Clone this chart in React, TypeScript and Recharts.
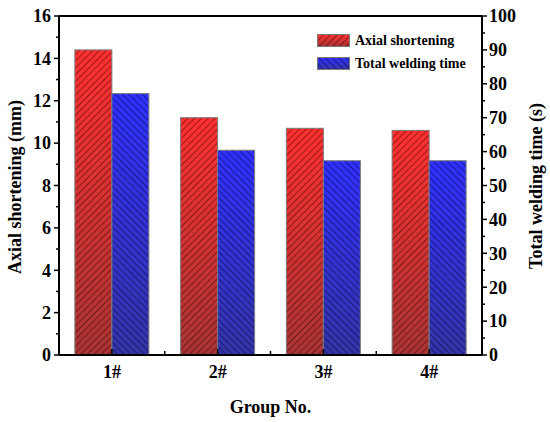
import { BarChart, Bar, XAxis, YAxis, Legend, ReferenceLine } from "recharts";

const categories = ["1#", "2#", "3#", "4#"];
const axialShortening = [14.4, 11.2, 10.7, 10.6];
const weldingTime = [77.1, 60.4, 57.3, 57.3];
const leftTicks = [0, 1, 2, 3, 4, 5, 6, 7, 8, 9, 10, 11, 12, 13, 14, 15, 16];
const rightTicks = [0, 5, 10, 15, 20, 25, 30, 35, 40, 45, 50, 55, 60, 65, 70, 75, 80, 85, 90, 95, 100];

const data = categories.map((name, i) => ({
  name,
  axial: axialShortening[i],
  time: weldingTime[i],
}));

const FONT = "'Liberation Serif', 'Times New Roman', serif";
const PLOT_LEFT = 59;
const PLOT_RIGHT = 482;
const BAND = (PLOT_RIGHT - PLOT_LEFT) / categories.length;

const LeftTick = (props: any) => {
  const { x, y, payload } = props;
  const major = payload.value % 2 === 0;
  return (
    <g>
      <line x1={x} x2={x - (major ? 5 : 3)} y1={y} y2={y} stroke="#000" strokeWidth={1.5} />
      {major && (
        <text x={x - 8} y={y} dy="0.35em" textAnchor="end" fontFamily={FONT} fontWeight="bold" fontSize={18} fill="#000">
          {payload.value}
        </text>
      )}
    </g>
  );
};

const RightTick = (props: any) => {
  const { x, y, payload } = props;
  const major = payload.value % 10 === 0;
  return (
    <g>
      <line x1={x} x2={x + (major ? 5 : 3)} y1={y} y2={y} stroke="#000" strokeWidth={1.5} />
      {major && (
        <text x={x + 7} y={y} dy="0.35em" textAnchor="start" fontFamily={FONT} fontWeight="bold" fontSize={18} fill="#000">
          {payload.value}
        </text>
      )}
    </g>
  );
};

const BottomTick = (props: any) => {
  const { x, y, payload, index } = props;
  return (
    <g>
      <line x1={x} x2={x} y1={y} y2={y - 6} stroke="#000" strokeWidth={1.5} />
      {index < categories.length - 1 && (
        <line x1={x + BAND / 2} x2={x + BAND / 2} y1={y} y2={y - 4} stroke="#000" strokeWidth={1.5} />
      )}
      <text x={x} y={y + 17} dy="0.35em" textAnchor="middle" fontFamily={FONT} fontWeight="bold" fontSize={18} fill="#000">
        {payload.value}
      </text>
    </g>
  );
};

const makeShape = (grad: string, hatch: string) => (props: any) => {
  const { x, y, width, height } = props;
  if (!height || height <= 0) return <g />;
  return (
    <g>
      <rect x={x} y={y} width={width} height={height} fill={`url(#${grad})`} />
      <rect x={x} y={y} width={width} height={height} fill={`url(#${hatch})`} />
      <rect x={x} y={y} width={width} height={height} fill="none" stroke="#7a7a7a" strokeWidth={1} />
    </g>
  );
};

const Defs = ({ prefix }: { prefix: string }) => (
  <defs>
    <linearGradient id={`${prefix}redGrad`} x1="0" y1="0" x2="0" y2="1">
      <stop offset="0%" stopColor="#ff3030" />
      <stop offset="100%" stopColor="#a83434" />
    </linearGradient>
    <linearGradient id={`${prefix}blueGrad`} x1="0" y1="0" x2="0" y2="1">
      <stop offset="0%" stopColor="#3030ff" />
      <stop offset="100%" stopColor="#3434a6" />
    </linearGradient>
    <pattern id={`${prefix}redHatch`} patternUnits="userSpaceOnUse" width={4.8} height={4.8} patternTransform="rotate(45)">
      <line x1={0.5} y1={0} x2={0.5} y2={4.8} stroke="#300000" strokeOpacity={0.6} strokeWidth={0.8} />
    </pattern>
    <pattern id={`${prefix}blueHatch`} patternUnits="userSpaceOnUse" width={4.8} height={4.8} patternTransform="rotate(-45)">
      <line x1={0.5} y1={0} x2={0.5} y2={4.8} stroke="#000030" strokeOpacity={0.6} strokeWidth={0.8} />
    </pattern>
  </defs>
);

const LegendContent = () => {
  const rows = [
    { label: "Axial shortening", grad: "lgredGrad", hatch: "lgredHatch" },
    { label: "Total welding time", grad: "lgblueGrad", hatch: "lgblueHatch" },
  ];
  return (
    <div style={{ fontFamily: FONT, fontWeight: "bold", fontSize: 14, color: "#000" }}>
      {rows.map((r) => (
        <div key={r.label} style={{ display: "flex", alignItems: "center", height: 23 }}>
          <svg width={33} height={13} style={{ marginRight: 5 }}>
            <Defs prefix="lg" />
            <rect x={0.5} y={0.5} width={32} height={12} fill={`url(#${r.grad})`} />
            <rect x={0.5} y={0.5} width={32} height={12} fill={`url(#${r.hatch})`} />
            <rect x={0.5} y={0.5} width={32} height={12} fill="none" stroke="#7a7a7a" strokeWidth={1} />
          </svg>
          <span>{r.label}</span>
        </div>
      ))}
    </div>
  );
};

export default function App() {
  return (
    <div style={{ position: "absolute", left: 0, top: 0, width: 550, height: 422, background: "#fff" }}>
      <BarChart
        width={550}
        height={422}
        data={data}
        margin={{ top: 16, right: 8, bottom: 7, left: 0 }}
        barCategoryGap="15%"
        barGap={0}
      >
        <Defs prefix="" />
        <XAxis
          dataKey="name"
          xAxisId={0}
          height={60}
          tickSize={0}
          tickMargin={0}
          tickLine={false}
          interval={0}
          axisLine={{ stroke: "#000", strokeWidth: 2 }}
          tick={<BottomTick />}
          label={() => (
            <text x={270.5} y={407} dy="0.35em" textAnchor="middle" fontFamily={FONT} fontWeight="bold" fontSize={18} fill="#000">
              Group No.
            </text>
          )}
        />
        <YAxis
          yAxisId="left"
          orientation="left"
          width={59}
          domain={[0, 16]}
          ticks={leftTicks}
          interval={0}
          tickSize={0}
          tickMargin={0}
          tickLine={false}
          axisLine={{ stroke: "#000", strokeWidth: 2 }}
          tick={<LeftTick />}
          label={() => (
            <text x={15} y={187} dy="0.35em" textAnchor="middle" transform="rotate(-90, 15, 187)" fontFamily={FONT} fontWeight="bold" fontSize={18} fill="#000">
              Axial shortening (mm)
            </text>
          )}
        />
        <YAxis
          yAxisId="right"
          orientation="right"
          width={60}
          domain={[0, 100]}
          ticks={rightTicks}
          interval={0}
          tickSize={0}
          tickMargin={0}
          tickLine={false}
          axisLine={{ stroke: "#000", strokeWidth: 2 }}
          tick={<RightTick />}
          label={() => (
            <text x={536} y={186} dy="0.35em" textAnchor="middle" transform="rotate(-90, 536, 186)" fontFamily={FONT} fontWeight="bold" fontSize={18} fill="#000">
              Total welding time (s)
            </text>
          )}
        />
        <ReferenceLine y={16} yAxisId="left" stroke="#000" strokeWidth={2} />
        <Legend
          layout="vertical"
          align="center"
          verticalAlign="middle"
          wrapperStyle={{ top: 29, left: 317, width: "auto", height: "auto" }}
          content={<LegendContent />}
        />
        <Bar
          dataKey="axial"
          yAxisId="left"
          name="Axial shortening"
          isAnimationActive={false}
          shape={makeShape("redGrad", "redHatch")}
        />
        <Bar
          dataKey="time"
          yAxisId="right"
          name="Total welding time"
          isAnimationActive={false}
          shape={makeShape("blueGrad", "blueHatch")}
        />
      </BarChart>
    </div>
  );
}
